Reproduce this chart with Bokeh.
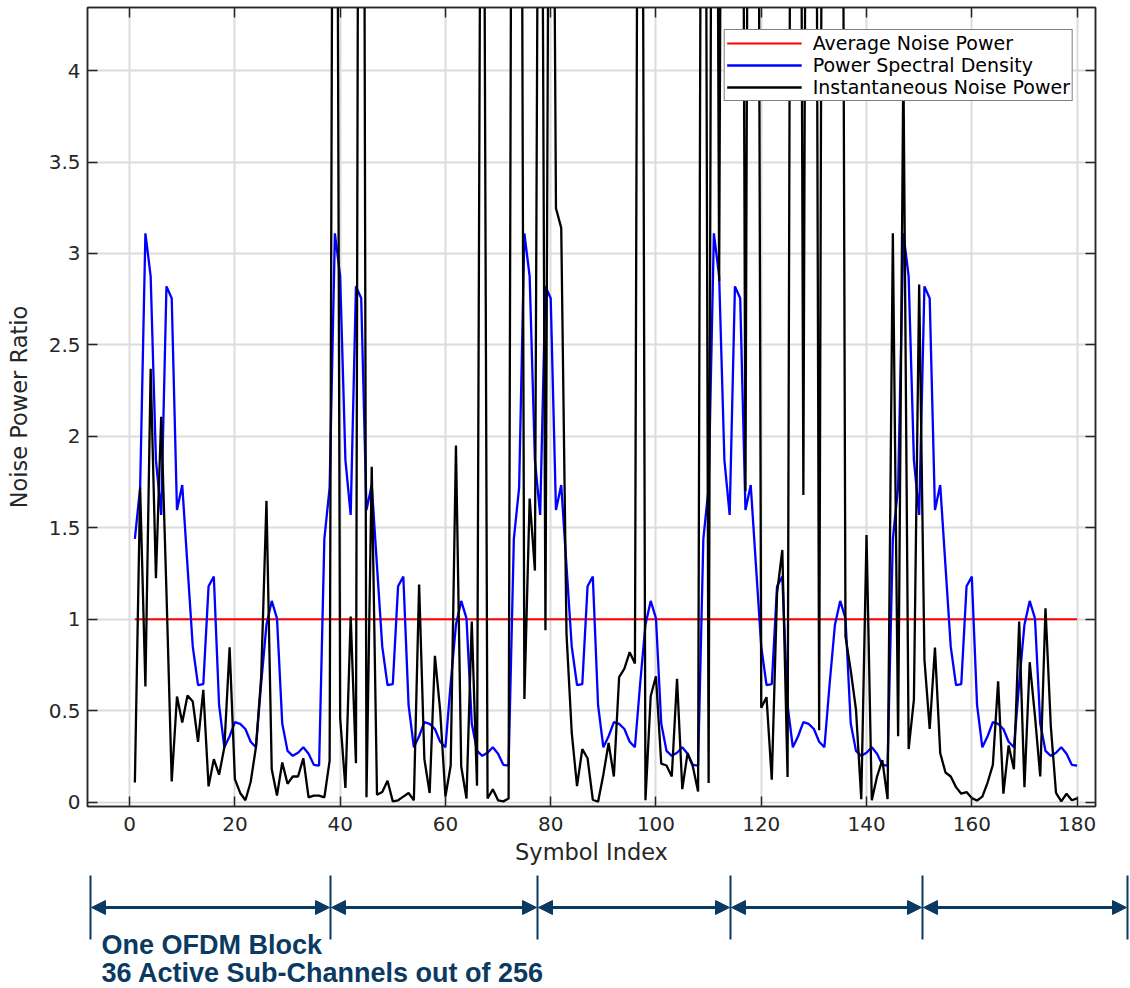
from bokeh.plotting import figure
from bokeh.models import (Range1d, LinearAxis, FixedTicker, CustomJSTickFormatter,
                          Legend, LegendItem, Arrow, NormalHead, Label)
from bokeh.layouts import column
from bokeh.embed import file_html
from bokeh.resources import INLINE

# ---------------- data ----------------
symbol_index = list(range(1, 181))

avg_noise_level = 1.0

psd = [
    1.44, 1.72, 3.11, 2.875, 1.87, 1.57, 2.82, 2.755, 1.597, 1.734, 1.29, 0.85,
    0.64, 0.645, 1.18, 1.233, 0.53, 0.30, 0.36, 0.437, 0.428, 0.40, 0.33, 0.30,
    0.65, 0.97, 1.10, 1.005, 0.43, 0.28, 0.253, 0.27, 0.30, 0.265, 0.204, 0.20,
    1.44, 1.72, 3.11, 2.875, 1.87, 1.57, 2.82, 2.755, 1.597, 1.734, 1.29, 0.85,
    0.64, 0.645, 1.18, 1.233, 0.53, 0.30, 0.36, 0.437, 0.428, 0.40, 0.33, 0.30,
    0.65, 0.97, 1.10, 1.005, 0.43, 0.28, 0.253, 0.27, 0.30, 0.265, 0.204, 0.20,
    1.44, 1.72, 3.11, 2.875, 1.87, 1.57, 2.82, 2.755, 1.597, 1.734, 1.29, 0.85,
    0.64, 0.645, 1.18, 1.233, 0.53, 0.30, 0.36, 0.437, 0.428, 0.40, 0.33, 0.30,
    0.65, 0.97, 1.10, 1.005, 0.43, 0.28, 0.253, 0.27, 0.30, 0.265, 0.204, 0.20,
    1.44, 1.72, 3.11, 2.875, 1.87, 1.57, 2.82, 2.755, 1.597, 1.734, 1.29, 0.85,
    0.64, 0.645, 1.18, 1.233, 0.53, 0.30, 0.36, 0.437, 0.428, 0.40, 0.33, 0.30,
    0.65, 0.97, 1.10, 1.005, 0.43, 0.28, 0.253, 0.27, 0.30, 0.265, 0.204, 0.20,
    1.44, 1.72, 3.11, 2.875, 1.87, 1.57, 2.82, 2.755, 1.597, 1.734, 1.29, 0.85,
    0.64, 0.645, 1.18, 1.233, 0.53, 0.30, 0.36, 0.437, 0.428, 0.40, 0.33, 0.30,
    0.65, 0.97, 1.10, 1.005, 0.43, 0.28, 0.253, 0.27, 0.30, 0.265, 0.204, 0.20,
]

inst_noise = [
    0.107, 1.72, 0.632, 2.37, 1.224, 2.107, 1.15, 0.113, 0.577, 0.435,     # 1-10
    0.583, 0.55, 0.33, 0.614, 0.086, 0.235, 0.15, 0.30, 0.847, 0.126,      # 11-20
    0.05, 0.01, 0.11, 0.30, 0.687, 1.647, 0.18, 0.036, 0.217, 0.10,        # 21-30
    0.14, 0.14, 0.24, 0.026, 0.035, 0.035, 0.026, 0.226, 9.5, 0.46,        # 31-40
    0.077, 1.015, 0.213, 12.0, 0.027, 1.834, 0.04, 0.055, 0.117, 0.004,    # 41-50
    0.01, 0.03, 0.05, 0.01, 1.19, 0.235, 0.05, 0.80, 0.50, 0.03,           # 51-60
    0.20, 1.95, 0.195, 0.02, 0.987, 0.09, 8.0, 0.02, 0.07, 0.01,           # 61-70
    0.004, 0.02, 10.0, 10.0, 0.564, 1.66, 1.266, 8.0, 0.94, 8.0,           # 71-80
    3.247, 3.14, 0.92, 0.378, 0.088, 0.29, 0.24, 0.013, 0.002, 0.15,       # 81-90
    0.323, 0.14, 0.684, 0.73, 0.82, 0.758, 10.0, 0.01, 0.58, 0.688,        # 91-100
    0.21, 0.20, 0.14, 0.674, 0.071, 0.268, 0.195, 0.058, 10.0, 0.105,      # 101-110
    10.0, 2.85, 10.0, 10.0, 10.0, 10.0, 1.70, 10.0, 10.0, 0.516,           # 111-120
    0.574, 0.122, 1.142, 1.379, 0.137, 10.0, 10.0, 1.68, 10.0, 10.0,       # 121-130
    0.393, 10.0, 10.0, 10.0, 10.0, 0.907, 0.72, 0.505, 0.016, 1.46,        # 131-140
    0.01, 0.14, 0.23, 0.016, 3.11, 0.36, 4.05, 0.29, 0.56, 2.83,           # 141-150
    0.78, 0.40, 0.845, 0.268, 0.162, 0.14, 0.082, 0.046, 0.055, 0.022,     # 151-160
    0.009, 0.03, 0.107, 0.204, 0.66, 0.046, 0.31, 0.18, 0.987, 0.082,      # 161-170
    0.765, 0.47, 0.14, 1.06, 0.42, 0.05, 0.004, 0.046, 0.01, 0.02,         # 171-180
]

avg_noise = [avg_noise_level for _ in symbol_index]

x_ticks = [0, 20, 40, 60, 80, 100, 120, 140, 160, 180]
x_tick_labels = ["0", "20", "40", "60", "80", "100", "120", "140", "160", "180"]
y_ticks = [0, 0.5, 1, 1.5, 2, 2.5, 3, 3.5, 4]
y_tick_labels = ["0", "0.5", "1", "1.5", "2", "2.5", "3", "3.5", "4"]

series_names = ["Average Noise Power", "Power Spectral Density", "Instantaneous Noise Power"]
block_text = ["One OFDM Block", "36 Active Sub-Channels out of 256"]

# ---------------- styles ----------------
AX = "#262626"
GRID = "#dcdcdc"
NAVY = "#0a3a62"
FONT = "DejaVu Sans"

MAIN_H = 868

p = figure(width=1130, height=MAIN_H,
           x_range=Range1d(-8, 183.5), y_range=Range1d(-0.024, 4.345),
           toolbar_location=None, output_backend="svg", frame_align=False,
           min_border_left=87, min_border_right=35, min_border_top=7,
           min_border_bottom=MAIN_H - 806)

r_avg = p.line(symbol_index, avg_noise, line_color="#ff0000", line_width=2)
r_psd = p.line(symbol_index, psd, line_color="#0000ff", line_width=2.3)
r_inst = p.line(symbol_index, inst_noise, line_color="#000000", line_width=2.3)

p.outline_line_color = AX
p.outline_line_width = 1.5

p.xaxis.ticker = FixedTicker(ticks=x_ticks)
p.yaxis.ticker = FixedTicker(ticks=y_ticks)
p.xaxis.major_label_overrides = {t: l for t, l in zip(x_ticks, x_tick_labels)}
p.yaxis.major_label_overrides = {t: l for t, l in zip(y_ticks, y_tick_labels)}
p.xgrid.ticker = FixedTicker(ticks=x_ticks)
p.ygrid.ticker = FixedTicker(ticks=y_ticks)
p.grid.grid_line_color = GRID
p.grid.grid_line_width = 2

for ax in (p.xaxis[0], p.yaxis[0]):
    ax.major_tick_in = 10
    ax.major_tick_out = 0
    ax.minor_tick_in = 0
    ax.minor_tick_out = 0
    ax.axis_line_color = AX
    ax.axis_line_width = 1.5
    ax.major_tick_line_color = AX
    ax.major_tick_line_width = 1.5
    ax.major_label_text_font = FONT
    ax.major_label_text_font_size = "20px"
    ax.major_label_text_color = AX
    ax.axis_label_text_font = FONT
    ax.axis_label_text_font_size = "22.5px"
    ax.axis_label_text_font_style = "normal"
    ax.axis_label_text_color = AX

p.xaxis.axis_label = "Symbol Index"
p.yaxis.axis_label = "Noise Power Ratio"
p.xaxis.major_label_standoff = 10
p.yaxis.major_label_standoff = 7
p.xaxis.axis_label_standoff = 5
p.yaxis.axis_label_standoff = 14

# mirrored inward ticks on top and right
empty = CustomJSTickFormatter(code="return ''")
top_ax = LinearAxis(ticker=FixedTicker(ticks=x_ticks), formatter=empty,
                    major_tick_in=10, major_tick_out=0, minor_tick_in=0, minor_tick_out=0,
                    major_label_standoff=0, major_label_text_font_size="0px",
                    axis_line_color=AX, axis_line_width=1.5,
                    major_tick_line_color=AX, major_tick_line_width=1.5)
right_ax = LinearAxis(ticker=FixedTicker(ticks=y_ticks), formatter=empty,
                      major_tick_in=10, major_tick_out=0, minor_tick_in=0, minor_tick_out=0,
                      major_label_standoff=0, major_label_text_font_size="0px",
                      axis_line_color=AX, axis_line_width=1.5,
                      major_tick_line_color=AX, major_tick_line_width=1.5)
p.add_layout(top_ax, "above")
p.add_layout(right_ax, "right")

legend = Legend(items=[LegendItem(label=series_names[0], renderers=[r_avg]),
                       LegendItem(label=series_names[1], renderers=[r_psd]),
                       LegendItem(label=series_names[2], renderers=[r_inst])],
                location="top_right", margin=22, padding=2, spacing=0,
                glyph_width=75, glyph_height=20, label_height=20, label_standoff=11,
                label_text_font=FONT, label_text_font_size="19px", label_text_color="#000000",
                border_line_color="#000000", border_line_width=1.5,
                background_fill_color="white", background_fill_alpha=1.0)
p.add_layout(legend)

# ---------------- block annotation strip (page-pixel coordinates) ----------------
ANN_H = 988 - MAIN_H
ann = figure(width=1130, height=ANN_H, x_range=Range1d(0, 1130), y_range=Range1d(988, MAIN_H),
             toolbar_location=None, output_backend="svg", frame_align=False,
             x_axis_location=None, y_axis_location=None,
             min_border=0, min_border_left=0, min_border_right=0,
             min_border_top=0, min_border_bottom=0)
ann.grid.visible = False
ann.outline_line_color = None

block_marks_px = [90, 330, 537, 730, 922, 1127]
ann.segment(x0=block_marks_px, y0=[875] * len(block_marks_px),
            x1=block_marks_px, y1=[939] * len(block_marks_px),
            line_color=NAVY, line_width=2)
for a, b in zip(block_marks_px[:-1], block_marks_px[1:]):
    ann.add_layout(Arrow(start=NormalHead(size=14, fill_color=NAVY, line_color=NAVY),
                         end=NormalHead(size=14, fill_color=NAVY, line_color=NAVY),
                         x_start=a + 1, y_start=907, x_end=b - 1, y_end=907,
                         line_color=NAVY, line_width=3))
for txt, ty in zip(block_text, [944, 972]):
    ann.add_layout(Label(x=101, y=ty, text=txt, text_baseline="middle",
                         text_font="Liberation Sans", text_font_style="bold",
                         text_font_size="27px", text_color=NAVY))

layout = column(p, ann, spacing=0)
open("out.html", "w").write(file_html(layout, INLINE))
